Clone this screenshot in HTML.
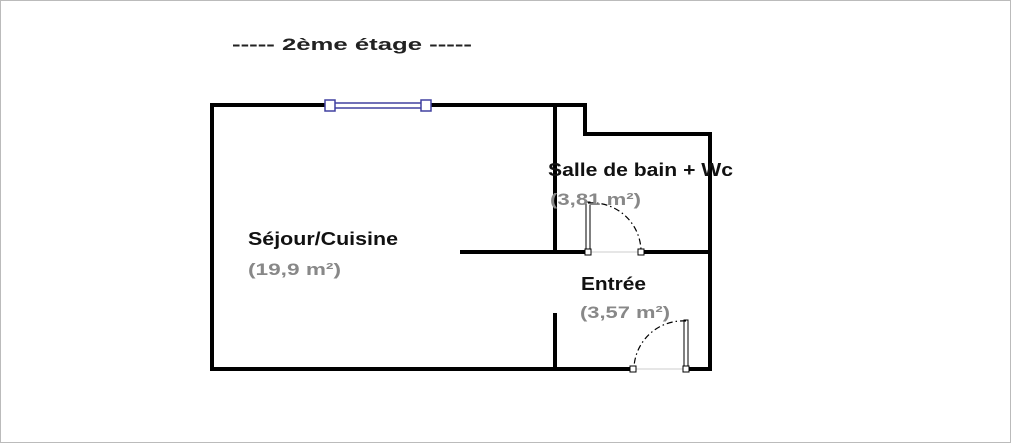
<!DOCTYPE html>
<html><head><meta charset="utf-8"><style>
html,body{margin:0;padding:0;background:#fff;}
svg{display:block;}
text{font-family:"Liberation Sans",sans-serif;font-weight:bold;}
</style></head><body>
<svg width="1012" height="443" viewBox="0 0 1012 443" xmlns="http://www.w3.org/2000/svg">
<rect x="0.5" y="0.5" width="1010" height="442" fill="#fff" stroke="#bbb" stroke-width="1"/>
<text x="232" y="50" font-size="17" fill="#222" textLength="240" lengthAdjust="spacingAndGlyphs">-----  2ème étage  -----</text>
<g stroke="#000" stroke-width="4" fill="none" stroke-linecap="square">
<polyline points="331,105 212,105 212,369 633,369"/>
<polyline points="426,105 585,105 585,134 710,134 710,369 686,369"/>
<line x1="555" y1="105" x2="555" y2="252"/>
<line x1="462" y1="252" x2="588" y2="252"/>
<line x1="641" y1="252" x2="710" y2="252"/>
<line x1="555" y1="315" x2="555" y2="369"/>
</g>
<line x1="330" y1="103" x2="426" y2="103" stroke="#4040a0" stroke-width="1.5"/>
<line x1="330" y1="108" x2="426" y2="108" stroke="#4040a0" stroke-width="1.5"/>
<rect x="325" y="100" width="10" height="11" fill="#fff" stroke="#4040a0" stroke-width="1.5"/>
<rect x="421" y="100" width="10" height="11" fill="#fff" stroke="#4040a0" stroke-width="1.5"/>
<line x1="588" y1="252" x2="641" y2="252" stroke="#ccc" stroke-width="1"/>
<rect x="586" y="202" width="4" height="50" fill="#fff" stroke="#000" stroke-width="1"/>
<path d="M588,203 A49,49 0 0 1 641,250" fill="none" stroke="#000" stroke-width="1.2" stroke-dasharray="6,3,1.5,3"/>
<rect x="585" y="249" width="6" height="6" fill="#fff" stroke="#000" stroke-width="1"/>
<rect x="638" y="249" width="6" height="6" fill="#fff" stroke="#000" stroke-width="1"/>
<line x1="633" y1="369" x2="686" y2="369" stroke="#ccc" stroke-width="1"/>
<rect x="684" y="320" width="4" height="49" fill="#fff" stroke="#000" stroke-width="1"/>
<path d="M686,321 A49,49 0 0 0 634,367" fill="none" stroke="#000" stroke-width="1.2" stroke-dasharray="6,3,1.5,3"/>
<rect x="630" y="366" width="6" height="6" fill="#fff" stroke="#000" stroke-width="1"/>
<rect x="683" y="366" width="6" height="6" fill="#fff" stroke="#000" stroke-width="1"/>
<text x="248" y="245" font-size="18" fill="#111" textLength="150" lengthAdjust="spacingAndGlyphs">Séjour/Cuisine</text>
<text x="248" y="275" font-size="17" fill="#888" textLength="93" lengthAdjust="spacingAndGlyphs">(19,9 m²)</text>
<text x="548" y="176" font-size="18" fill="#111" textLength="185" lengthAdjust="spacingAndGlyphs">Salle de bain + Wc</text>
<text x="550" y="205" font-size="17" fill="#888" textLength="91" lengthAdjust="spacingAndGlyphs">(3,81 m²)</text>
<text x="581" y="290" font-size="18" fill="#111" textLength="65" lengthAdjust="spacingAndGlyphs">Entrée</text>
<text x="580" y="318" font-size="17" fill="#888" textLength="90" lengthAdjust="spacingAndGlyphs">(3,57 m²)</text>
</svg>
</body></html>
